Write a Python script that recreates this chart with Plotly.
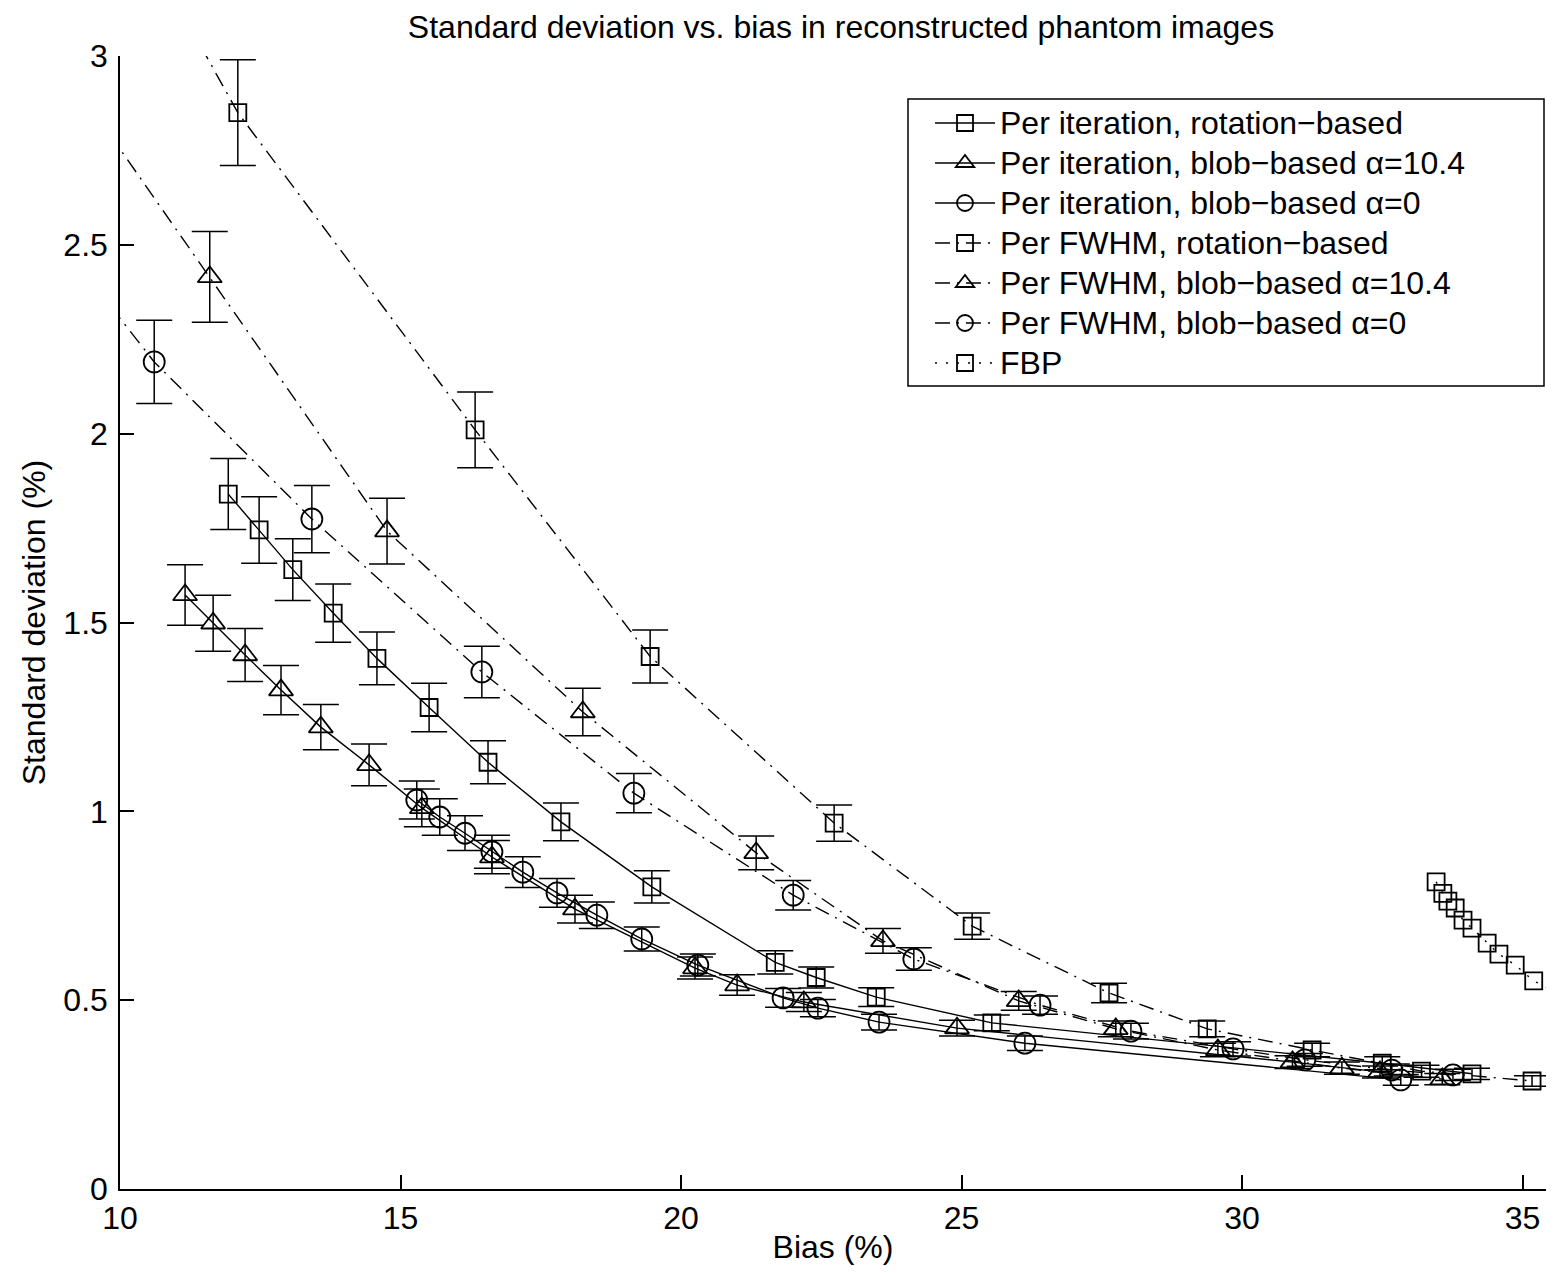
import plotly.graph_objects as go

# ---------------- data ----------------
rot_iter_x = [11.93, 12.48, 13.08, 13.80, 14.58, 15.51, 16.56, 17.86, 19.48, 21.68, 22.41, 23.48, 25.54, 32.50, 34.10]
rot_iter_y = [1.84, 1.745, 1.64, 1.525, 1.405, 1.275, 1.13, 0.972, 0.80, 0.60, 0.56, 0.508, 0.44, 0.333, 0.305]
rot_iter_e = [0.094, 0.088, 0.082, 0.077, 0.070, 0.064, 0.057, 0.050, 0.043, 0.031, 0.028, 0.025, 0.021, 0.017, 0.015]

tri_iter_x = [11.16, 11.66, 12.23, 12.87, 13.58, 14.44, 15.38, 16.63, 18.11, 20.25, 21.00, 22.19, 24.92, 30.90, 32.46]
tri_iter_y = [1.573, 1.498, 1.414, 1.321, 1.223, 1.123, 1.009, 0.879, 0.741, 0.585, 0.540, 0.495, 0.426, 0.336, 0.310]
tri_iter_e = [0.080, 0.074, 0.070, 0.065, 0.060, 0.055, 0.050, 0.044, 0.037, 0.029, 0.027, 0.025, 0.021, 0.017, 0.016]

circ_iter_x = [15.29, 15.70, 16.15, 16.63, 17.18, 17.79, 18.50, 19.30, 20.30, 21.82, 22.44, 23.53, 26.13, 32.83]
circ_iter_y = [1.03, 0.985, 0.942, 0.893, 0.839, 0.784, 0.725, 0.662, 0.593, 0.506, 0.479, 0.442, 0.386, 0.289]
circ_iter_e = [0.050, 0.048, 0.046, 0.044, 0.041, 0.038, 0.035, 0.032, 0.029, 0.025, 0.023, 0.021, 0.019, 0.014]

rot_fwhm_x = [10.90, 12.10, 16.33, 19.45, 22.73, 25.19, 27.63, 29.38, 31.25, 33.20, 35.17]
rot_fwhm_y = [3.17, 2.85, 2.01, 1.41, 0.969, 0.696, 0.519, 0.424, 0.368, 0.312, 0.286]
rot_fwhm_e = [0.150, 0.140, 0.100, 0.070, 0.048, 0.035, 0.026, 0.021, 0.018, 0.016, 0.014]

tri_fwhm_x = [9.50, 11.60, 14.76, 18.25, 21.34, 23.60, 26.02, 27.75, 29.57, 31.78, 33.57]
tri_fwhm_y = [2.86, 2.415, 1.742, 1.263, 0.89, 0.657, 0.498, 0.424, 0.368, 0.320, 0.291]
tri_fwhm_e = [0.140, 0.120, 0.087, 0.063, 0.045, 0.033, 0.025, 0.021, 0.018, 0.016, 0.015]

circ_fwhm_x = [9.50, 10.61, 13.42, 16.45, 19.16, 22.00, 24.15, 26.40, 28.02, 29.84, 31.12, 32.67, 33.76]
circ_fwhm_y = [2.40, 2.19, 1.774, 1.369, 1.048, 0.778, 0.609, 0.487, 0.418, 0.371, 0.342, 0.315, 0.302]
circ_fwhm_e = [0.120, 0.110, 0.089, 0.068, 0.052, 0.039, 0.030, 0.024, 0.021, 0.019, 0.017, 0.016, 0.015]

fbp_x = [33.46, 33.58, 33.67, 33.80, 33.94, 34.10, 34.37, 34.58, 34.87, 35.20, 35.60]
fbp_y = [0.813, 0.783, 0.762, 0.744, 0.712, 0.691, 0.651, 0.622, 0.593, 0.551, 0.521]

x_ticks = [10, 15, 20, 25, 30, 35]
y_ticks = [0, 0.5, 1, 1.5, 2, 2.5, 3]
y_tick_text = ["0", "0.5", "1", "1.5", "2", "2.5", "3"]

# ---------------- styling ----------------
FONT = "Liberation Sans, Arial, Helvetica, sans-serif"
FS = 32
LEG_ROW_FS = 28.46          # sets the legend row pitch (~40 px)
DASHDOT = "15px,7px,2px,7px"
DOTTED = "2px,9px"
LW = 1.4

def leg(txt):
    return '<span style="font-size:32px">' + txt + '</span>'

series = [
    ("Per iteration, rotation\u2212based", rot_iter_x, rot_iter_y, rot_iter_e, "square-open", 17, "solid"),
    ("Per iteration, blob\u2212based \u03b1=10.4", tri_iter_x, tri_iter_y, tri_iter_e, "triangle-up-open", 21, "solid"),
    ("Per iteration, blob\u2212based \u03b1=0", circ_iter_x, circ_iter_y, circ_iter_e, "circle-open", 21, "solid"),
    ("Per FWHM, rotation\u2212based", rot_fwhm_x, rot_fwhm_y, rot_fwhm_e, "square-open", 17, DASHDOT),
    ("Per FWHM, blob\u2212based \u03b1=10.4", tri_fwhm_x, tri_fwhm_y, tri_fwhm_e, "triangle-up-open", 21, DASHDOT),
    ("Per FWHM, blob\u2212based \u03b1=0", circ_fwhm_x, circ_fwhm_y, circ_fwhm_e, "circle-open", 21, DASHDOT),
]

fig = go.Figure()
for name, xs, ys, es, sym, sz, dash in series:
    fig.add_trace(go.Scatter(
        x=xs, y=ys, name=leg(name), mode="lines+markers",
        line=dict(color="black", width=LW, dash=dash),
        marker=dict(symbol=sym, size=sz, color="black", line=dict(width=1.8, color="black")),
        error_y=dict(type="data", array=es, visible=True, color="black", thickness=1.5, width=18),
    ))

fig.add_trace(go.Scatter(
    x=fbp_x, y=fbp_y, name=leg("FBP"), mode="lines+markers",
    line=dict(color="black", width=LW, dash=DOTTED),
    marker=dict(symbol="square-open", size=17, color="black", line=dict(width=1.8, color="black")),
))

# figure-pixel geometry (page body adds an 8 px offset on every side)
W, H = 1538, 1257
PL, PR, PT, PB = 112, 1538, 48, 1181
def px_x(p):
    return (p - PL) / (PR - PL)
def px_y(p):
    return (PB - p) / (PB - PT)

fig.add_shape(type="rect", xref="paper", yref="paper",
              x0=px_x(900), x1=px_x(1536), y0=px_y(378), y1=px_y(91),
              line=dict(color="black", width=1.5), fillcolor="white", layer="above")

fig.update_layout(
    width=W, height=H,
    margin=dict(l=PL, r=W - PR, t=PT, b=H - PB, autoexpand=False),
    paper_bgcolor="white", plot_bgcolor="white",
    font=dict(family=FONT, size=FS, color="black"),
    title=dict(text="Standard deviation vs. bias in reconstructed phantom images",
               x=833 / W, xanchor="center", y=1 - 19 / H, yanchor="middle", yref="container",
               font=dict(family=FONT, size=FS, color="black")),
    showlegend=True,
    legend=dict(x=px_x(922), xanchor="left", y=px_y(90), yanchor="top",
                bgcolor="rgba(0,0,0,0)", borderwidth=0,
                font=dict(family=FONT, size=LEG_ROW_FS, color="black"),
                tracegroupgap=0, itemwidth=60),
)

fig.update_xaxes(
    range=[10, 10 + (PR - PL) / 56.1], tickvals=x_ticks, ticktext=[str(v) for v in x_ticks],
    ticks="inside", ticklen=14, tickwidth=1.5, tickcolor="black",
    showline=True, linecolor="black", linewidth=1.5, mirror=False,
    showgrid=False, zeroline=False, automargin=False,
    title=dict(text="Bias (%)", standoff=0, font=dict(family=FONT, size=FS)),
    tickfont=dict(family=FONT, size=FS),
)
fig.update_yaxes(
    range=[0, 3], tickvals=y_ticks, ticktext=y_tick_text,
    ticks="inside", ticklen=14, tickwidth=1.5, tickcolor="black",
    showline=True, linecolor="black", linewidth=1.5, mirror=False,
    showgrid=False, zeroline=False, automargin=False,
    ticklabelstandoff=4,
    title=dict(text="Standard deviation (%)", standoff=8, font=dict(family=FONT, size=FS)),
    tickfont=dict(family=FONT, size=FS),
)

fig.write_html("out.html")
